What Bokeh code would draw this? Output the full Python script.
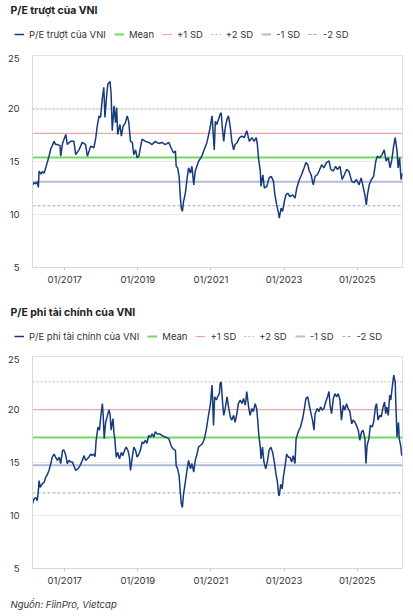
from datetime import datetime, timedelta
from bokeh.plotting import figure
from bokeh.models import Range1d, FixedTicker, DatetimeTickFormatter, Legend, LegendItem, Label
from bokeh.layouts import column
from bokeh.embed import file_html
from bokeh.resources import INLINE

# ---------------- data ----------------
title1 = "P/E trượt của VNI"
name1 = "P/E trượt của VNI"
title2 = "P/E phi tài chính của VNI"
name2 = "P/E phi tài chính của VNI"
source_text = "Nguồn: FiinPro, Vietcap"
band_labels = ["Mean", "+1 SD", "+2 SD", "-1 SD", "-2 SD"]
x_tick_labels = ["01/2017", "01/2019", "01/2021", "01/2023", "01/2025"]
y_ticks = [5, 10, 15, 20, 25]

# decimal years (date of observation) and values
yr1 = [2016.12, 2016.16, 2016.21, 2016.25, 2016.28, 2016.30, 2016.35, 2016.39, 2016.44, 2016.48,
       2016.53, 2016.57, 2016.62, 2016.66, 2016.71, 2016.75, 2016.80, 2016.87, 2016.89, 2016.94,
       2016.98, 2017.03, 2017.07, 2017.16, 2017.25, 2017.30, 2017.39, 2017.48, 2017.57, 2017.62,
       2017.71, 2017.80, 2017.85, 2017.89, 2017.94, 2017.98, 2018.03, 2018.07, 2018.10, 2018.15,
       2018.18, 2018.24, 2018.27, 2018.30, 2018.35, 2018.39, 2018.42, 2018.45, 2018.51, 2018.55,
       2018.60, 2018.66, 2018.71, 2018.75, 2018.80, 2018.85, 2018.89, 2018.94, 2018.98, 2019.03,
       2019.07, 2019.12, 2019.21, 2019.30, 2019.39, 2019.48, 2019.57, 2019.66, 2019.75, 2019.85,
       2019.91, 2019.98, 2020.03, 2020.05, 2020.09, 2020.13, 2020.16, 2020.19, 2020.22, 2020.25,
       2020.30, 2020.35, 2020.39, 2020.44, 2020.48, 2020.53, 2020.57, 2020.66, 2020.75, 2020.80,
       2020.89, 2020.96, 2021.03, 2021.09, 2021.12, 2021.16, 2021.21, 2021.25, 2021.28, 2021.31,
       2021.35, 2021.39, 2021.44, 2021.48, 2021.53, 2021.57, 2021.62, 2021.66, 2021.72, 2021.78,
       2021.85, 2021.91, 2021.98, 2022.05, 2022.12, 2022.18, 2022.24, 2022.27, 2022.30, 2022.35,
       2022.37, 2022.42, 2022.46, 2022.53, 2022.59, 2022.65, 2022.71, 2022.75, 2022.80, 2022.85,
       2022.87, 2022.92, 2022.96, 2023.01, 2023.05, 2023.10, 2023.16, 2023.24, 2023.30, 2023.35,
       2023.42, 2023.48, 2023.55, 2023.60, 2023.65, 2023.69, 2023.74, 2023.80, 2023.85, 2023.91,
       2023.96, 2024.03, 2024.09, 2024.16, 2024.23, 2024.28, 2024.35, 2024.41, 2024.46, 2024.53,
       2024.59, 2024.65, 2024.71, 2024.77, 2024.85, 2024.91, 2024.98, 2025.05, 2025.11, 2025.16,
       2025.21, 2025.25, 2025.28, 2025.33, 2025.39, 2025.45, 2025.51, 2025.55, 2025.62, 2025.68,
       2025.74, 2025.79, 2025.85, 2025.90, 2025.95, 2025.99, 2026.04, 2026.09, 2026.12, 2026.16,
       2026.20, 2026.24]
pe1 = [12.75, 13.0, 12.9, 13.1, 12.55, 14.1, 13.8, 14.05, 13.9, 14.4,
       15.0, 15.5, 16.2, 16.5, 16.9, 16.6, 16.6, 16.5, 15.5, 16.7,
       17.1, 17.55, 16.6, 16.9, 16.9, 15.65, 16.1, 16.8, 16.6, 15.5,
       16.45, 16.3, 17.25, 18.35, 19.3, 19.15, 21.0, 22.0, 19.15, 21.35,
       22.3, 22.55, 21.35, 17.9, 20.25, 18.65, 20.1, 17.55, 18.5, 17.4,
       18.35, 18.65, 19.3, 18.8, 16.9, 16.8, 15.65, 16.1, 15.35, 15.5,
       16.3, 17.1, 16.9, 16.8, 16.6, 16.9, 16.7, 16.8, 16.6, 16.8,
       16.3, 15.8, 16.0, 14.55, 14.4, 13.6, 11.85, 10.6, 10.3, 11.2,
       12.0, 13.45, 14.4, 13.9, 14.55, 12.8, 14.1, 15.0, 15.5, 16.0,
       16.8, 17.9, 19.3, 16.1, 18.8, 18.5, 19.0, 19.45, 19.6, 18.2,
       16.9, 18.2, 19.0, 19.3, 18.2, 16.9, 16.1, 16.6, 16.8, 17.25,
       17.4, 17.25, 17.9, 16.9, 17.25, 16.9, 17.25, 16.6, 15.35, 14.1,
       12.65, 13.75, 12.5, 12.65, 13.45, 13.6, 13.15, 11.85, 10.9, 10.1,
       9.65, 10.6, 10.3, 11.25, 11.85, 12.0, 11.7, 11.85, 11.55, 12.5,
       13.3, 13.75, 14.4, 14.9, 14.7, 14.1, 13.75, 12.8, 13.6, 13.75,
       14.1, 14.7, 14.4, 14.9, 15.05, 14.25, 14.1, 14.55, 14.25, 14.55,
       13.3, 13.75, 14.25, 14.1, 13.15, 13.0, 13.3, 12.8, 13.45, 12.65,
       11.85, 10.9, 11.85, 12.8, 13.3, 13.6, 15.05, 15.5, 15.35, 15.65,
       16.1, 15.05, 15.35, 14.4, 15.2, 16.3, 17.25, 16.0, 14.4, 15.35,
       13.3, 13.9]
mean1, sd1 = 15.38, 2.28

yr2 = [2016.12, 2016.16, 2016.21, 2016.25, 2016.28, 2016.30, 2016.33, 2016.39, 2016.44, 2016.48,
       2016.53, 2016.57, 2016.62, 2016.66, 2016.71, 2016.75, 2016.80, 2016.85, 2016.89, 2016.94,
       2016.98, 2017.03, 2017.07, 2017.12, 2017.16, 2017.21, 2017.25, 2017.30, 2017.36, 2017.42,
       2017.48, 2017.53, 2017.57, 2017.62, 2017.66, 2017.71, 2017.75, 2017.80, 2017.83, 2017.86,
       2017.91, 2017.95, 2017.98, 2018.03, 2018.05, 2018.08, 2018.12, 2018.16, 2018.21, 2018.24,
       2018.27, 2018.32, 2018.35, 2018.37, 2018.41, 2018.45, 2018.50, 2018.55, 2018.59, 2018.64,
       2018.68, 2018.73, 2018.77, 2018.80, 2018.85, 2018.89, 2018.94, 2018.98, 2019.03, 2019.07,
       2019.12, 2019.16, 2019.21, 2019.25, 2019.30, 2019.35, 2019.39, 2019.44, 2019.48, 2019.53,
       2019.60, 2019.66, 2019.75, 2019.85, 2019.91, 2019.96, 2020.03, 2020.05, 2020.09, 2020.13,
       2020.16, 2020.19, 2020.22, 2020.25, 2020.30, 2020.35, 2020.39, 2020.44, 2020.48, 2020.53,
       2020.57, 2020.62, 2020.66, 2020.71, 2020.77, 2020.82, 2020.87, 2020.94, 2020.98, 2021.03,
       2021.07, 2021.10, 2021.15, 2021.18, 2021.23, 2021.25, 2021.28, 2021.32, 2021.35, 2021.39,
       2021.44, 2021.48, 2021.53, 2021.57, 2021.62, 2021.66, 2021.71, 2021.75, 2021.80, 2021.85,
       2021.89, 2021.94, 2021.98, 2022.03, 2022.07, 2022.12, 2022.16, 2022.21, 2022.25, 2022.28,
       2022.31, 2022.35, 2022.37, 2022.41, 2022.45, 2022.50, 2022.55, 2022.59, 2022.64, 2022.69,
       2022.74, 2022.78, 2022.82, 2022.85, 2022.87, 2022.91, 2022.95, 2022.98, 2023.03, 2023.07,
       2023.12, 2023.16, 2023.21, 2023.25, 2023.30, 2023.33, 2023.39, 2023.45, 2023.51, 2023.55,
       2023.60, 2023.65, 2023.69, 2023.74, 2023.78, 2023.82, 2023.85, 2023.91, 2023.96, 2024.00,
       2024.05, 2024.09, 2024.14, 2024.19, 2024.23, 2024.26, 2024.30, 2024.35, 2024.39, 2024.44,
       2024.48, 2024.53, 2024.57, 2024.62, 2024.66, 2024.71, 2024.75, 2024.80, 2024.85, 2024.89,
       2024.94, 2024.98, 2025.03, 2025.07, 2025.12, 2025.16, 2025.21, 2025.24, 2025.27, 2025.32,
       2025.36, 2025.41, 2025.45, 2025.50, 2025.53, 2025.57, 2025.62, 2025.66, 2025.71, 2025.75,
       2025.78, 2025.81, 2025.85, 2025.89, 2025.92, 2025.96, 2026.00, 2026.04, 2026.06, 2026.09,
       2026.13, 2026.15, 2026.19, 2026.22]
pe2 = [11.1, 11.55, 11.7, 11.4, 12.35, 13.3, 12.65, 13.0, 13.15, 13.6,
       13.9, 14.25, 14.9, 15.5, 15.8, 15.5, 15.2, 15.5, 14.9, 16.15,
       16.15, 15.65, 14.9, 15.2, 15.05, 15.05, 14.7, 14.25, 14.4, 14.7,
       15.2, 15.65, 15.2, 15.35, 15.5, 15.8, 15.65, 15.8, 15.55, 17.1,
       18.35, 18.05, 19.15, 20.55, 19.6, 17.25, 18.8, 19.3, 19.95, 19.6,
       18.05, 19.15, 17.7, 17.25, 15.5, 15.95, 15.35, 15.95, 15.65, 16.15,
       16.45, 16.15, 15.5, 14.25, 15.5, 16.45, 16.15, 15.5, 15.8, 16.15,
       16.95, 16.8, 17.1, 16.8, 17.55, 17.4, 17.7, 17.4, 17.9, 17.7,
       17.7, 17.55, 17.4, 17.25, 16.6, 16.3, 16.15, 14.7, 14.4, 13.75,
       12.35, 11.1, 10.75, 12.0, 13.15, 14.4, 15.2, 14.4, 14.9, 14.1,
       15.2, 15.8, 16.45, 16.6, 16.8, 17.25, 18.05, 19.6, 20.4, 22.3,
       18.5, 21.2, 20.9, 21.2, 21.5, 22.45, 22.6, 20.55, 19.45, 20.1,
       21.2, 20.25, 19.3, 19.0, 19.45, 18.8, 19.6, 20.55, 20.9, 20.55,
       21.05, 20.4, 21.7, 20.25, 19.45, 20.1, 19.8, 20.55, 20.1, 19.0,
       17.55, 16.45, 15.35, 16.45, 15.05, 14.4, 15.2, 16.15, 16.45, 15.95,
       14.9, 13.9, 13.15, 12.0, 11.85, 12.95, 12.5, 13.6, 14.7, 15.8,
       15.5, 15.5, 15.05, 15.65, 14.9, 17.25, 17.9, 18.35, 19.15, 19.95,
       21.05, 21.2, 20.4, 19.6, 19.0, 18.05, 19.6, 20.1, 19.8, 20.25,
       19.95, 20.1, 20.7, 21.2, 21.7, 20.4, 19.6, 21.05, 21.5, 21.2,
       21.5, 20.9, 19.0, 20.4, 19.95, 20.55, 20.1, 19.8, 18.65, 19.0,
       18.8, 18.5, 18.05, 17.1, 17.9, 18.05, 17.25, 14.9, 16.6, 17.25,
       18.5, 18.35, 18.8, 20.25, 20.55, 19.0, 19.45, 19.3, 20.25, 20.7,
       19.6, 20.25, 19.45, 21.35, 20.9, 22.15, 23.25, 22.6, 20.25, 17.4,
       18.8, 17.25, 16.6, 15.65]
mean2, sd2 = 17.37, 2.62

# ---------------- helpers ----------------
FONT = "Inter"
TXT = "#333333"
W = 410
MAIN_COLOR = "#163a7c"


def to_dt(y):
    yi = int(y)
    start = datetime(yi, 1, 1)
    ndays = (datetime(yi + 1, 1, 1) - start).days
    return start + timedelta(days=(y - yi) * ndays)


def to_ms(d):
    return (d - datetime(1970, 1, 1)).total_seconds() * 1000.0


x_start = to_dt(min(yr1[0], yr2[0]))
x_end = to_dt(max(yr1[-1], yr2[-1]))
tick_ms = [to_ms(datetime.strptime(t, "%m/%Y")) for t in x_tick_labels]

band_styles = [
    dict(k=0, color="#6fdc5f", width=2.0, dash="solid"),
    dict(k=1, color="#e8a8a8", width=1.2, dash="solid"),
    dict(k=2, color="#e0a6a6", width=1.0, dash="2 2"),
    dict(k=-1, color="#aebbd9", width=2.0, dash="solid"),
    dict(k=-2, color="#9ea8c4", width=1.0, dash="3 2"),
]


def add_series(f, years, values, mean, sd):
    """Draw the P/E series and its mean / SD bands; returns renderers."""
    xs = [to_dt(v) for v in years]
    bands = []
    for st in band_styles:
        yv = mean + st["k"] * sd
        bands.append(f.line([x_start, x_end], [yv, yv], line_color=st["color"],
                            line_width=st["width"], line_dash=st["dash"]))
    main = f.line(xs, values, line_color=MAIN_COLOR, line_width=1.5)
    return main, bands


def blank(height):
    f = figure(width=W, height=height, x_range=Range1d(0, 1), y_range=Range1d(0, 1),
               output_backend="svg", toolbar_location=None,
               x_axis_location=None, y_axis_location=None, min_border=0)
    if "frame_align" in f.properties():
        f.frame_align = False   # keep this strip's frame full-width
    f.grid.grid_line_color = None
    f.outline_line_color = None
    f.background_fill_color = "white"
    f.border_fill_color = "white"
    return f


def make_header(title, name, years, values, mean, sd, height, title_y, legend_x, legend_y):
    h = blank(height)
    h.add_layout(Label(x=10, y=title_y, x_units="screen", y_units="screen",
                       text=title, text_font=FONT, text_font_style="bold",
                       text_font_size="10.5px", text_color="#222222",
                       text_baseline="middle"))
    # same series drawn outside this strip's view: only their legend glyphs show
    main, bands = add_series(h, years, values, mean, sd)
    items = [LegendItem(label=name, renderers=[main])]
    items += [LegendItem(label=lbl, renderers=[r]) for lbl, r in zip(band_labels, bands)]
    legend = Legend(items=items, orientation="horizontal", location=(legend_x, legend_y),
                    label_text_font=FONT, label_text_font_size="9.5px",
                    label_text_color=TXT, glyph_width=10, glyph_height=10,
                    label_height=12, label_width=10,
                    label_standoff=5, spacing=8, padding=0, margin=0,
                    border_line_color=None, background_fill_alpha=0)
    h.add_layout(legend)
    return h


def make_chart(years, values, mean, sd, height, bottom):
    p = figure(width=W, height=height, x_axis_type="datetime",
               x_range=Range1d(x_start, x_end), y_range=Range1d(5, 25),
               output_backend="svg", toolbar_location=None,
               min_border_left=32, min_border_right=8,
               min_border_top=1, min_border_bottom=bottom)
    add_series(p, years, values, mean, sd)

    p.xaxis.ticker = FixedTicker(ticks=tick_ms)
    p.xaxis.formatter = DatetimeTickFormatter(years="%m/%Y", months="%m/%Y", days="%m/%Y")
    p.xaxis.major_tick_in = 0
    p.xaxis.major_tick_out = 3
    p.xaxis.minor_tick_line_color = None
    p.xaxis.major_tick_line_color = "#cccccc"
    p.xaxis.axis_line_color = "#d9d9d9"
    p.xaxis.major_label_standoff = 3
    p.yaxis.ticker = FixedTicker(ticks=y_ticks)
    p.yaxis.major_tick_line_color = None
    p.yaxis.minor_tick_line_color = None
    p.yaxis.axis_line_color = "#d9d9d9"
    p.yaxis.major_label_standoff = 7
    for ax in (p.xaxis, p.yaxis):
        ax.major_label_text_font = FONT
        ax.major_label_text_font_size = "9.5px"
        ax.major_label_text_color = TXT
    p.xgrid.grid_line_color = None
    p.ygrid.grid_line_color = "#ebebeb"
    p.outline_line_color = "#e0e0e0"
    p.background_fill_color = "white"
    p.border_fill_color = "white"
    return p


h1 = make_header(title1, name1, yr1, pe1, mean1, sd1, height=54, title_y=44,
                 legend_x=14, legend_y=14)
p1 = make_chart(yr1, pe1, mean1, sd1, height=246, bottom=33)
h2 = make_header(title2, name2, yr2, pe2, mean2, sd2, height=55, title_y=43,
                 legend_x=14, legend_y=13)
p2 = make_chart(yr2, pe2, mean2, sd2, height=239, bottom=26)
foot = blank(18)
foot.add_layout(Label(x=10, y=8, x_units="screen", y_units="screen", text=source_text,
                      text_font=FONT, text_font_style="italic", text_font_size="9.5px",
                      text_color=TXT, text_baseline="middle"))

layout = column(h1, p1, h2, p2, foot, spacing=0)
open("out.html", "w").write(file_html(layout, INLINE))
